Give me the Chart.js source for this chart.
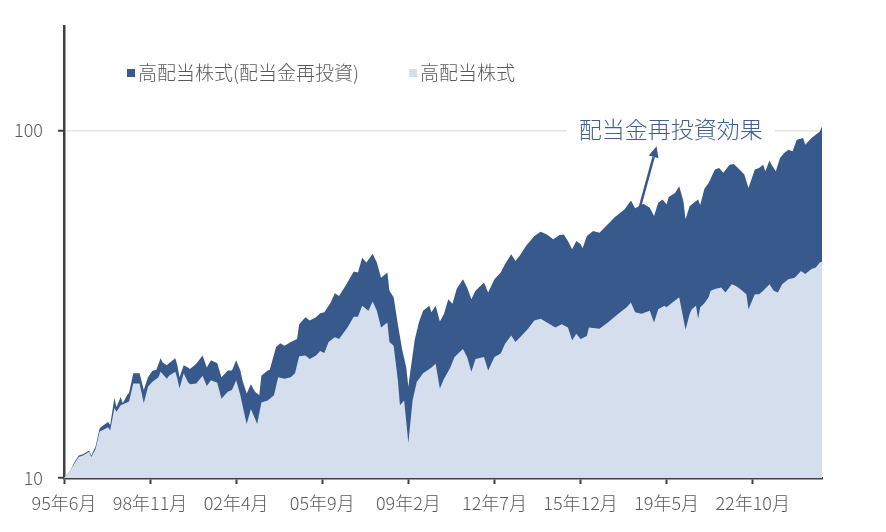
<!DOCTYPE html>
<html><head><meta charset="utf-8">
<script src="https://cdn.jsdelivr.net/npm/chart.js@4"></script>
<style>html,body{margin:0;padding:0;background:#fff}#wrap{width:886px;height:532px}</style>
</head><body><div id="wrap"><canvas id="c" width="886" height="532"></canvas></div>
<script>
// ---- data (month index 0 = 1995年6月) ----
const startYear = 1995;
const startMonth = 6;
const xTickMonths = [0, 41, 82, 123, 164, 205, 246, 287, 328];
const yTickValues = [10, 100];
const seriesLabels = ['高配当株式(配当金再投資)', '高配当株式'];
const annotationText = '配当金再投資効果';

const totalMonths = [0,3,5,7,9,12,13,15,17,19,21,22,24,25,27,28,30,31,33,36,38,40,42,44,46,47,49,50,53,54,55,57,59,60,63,66,68,70,73,75,78,80,82,84,85,87,89,91,93,94,97,98,101,103,105,108,111,112,115,117,120,122,124,127,129,131,134,138,140,142,144,147,149,151,154,155,157,159,161,163,164,165,167,169,171,174,175,177,179,181,183,185,187,190,192,194,196,200,202,205,208,210,213,215,217,220,224,227,230,233,236,238,240,242,244,246,247,249,252,255,259,262,267,270,272,276,279,281,283,285,287,288,291,293,295,296,298,300,302,303,305,307,310,312,314,317,319,321,324,326,329,331,333,334,336,337,339,341,343,345,347,349,352,353,356,358,360,361];
const totalValues = [10.0,10.5,11.1,11.6,11.7,12.0,11.6,12.3,13.9,14.2,14.5,14.2,17.0,16.0,17.1,16.4,17.3,17.6,20.0,20.0,17.9,19.5,20.3,20.5,22.1,21.5,21.1,21.4,22.1,21.1,19.5,21.1,20.8,20.6,21.3,22.5,20.8,21.8,21.4,19.5,20.4,20.4,21.8,20.4,19.1,17.5,18.6,17.7,17.3,19.7,20.4,20.5,23.8,24.4,24.0,24.6,25.1,27.7,29.0,28.4,29.0,29.8,30.0,32.0,34.0,33.4,35.7,39.3,39.0,43.0,41.7,44.2,41.7,37.7,39.0,34.6,33.1,27.7,23.5,20.8,18.3,20.4,24.9,28.0,30.3,31.3,30.0,31.3,28.2,29.7,32.7,31.7,35.0,37.3,35.3,32.7,34.6,36.5,34.2,37.3,39.0,41.2,44.0,42.1,43.6,46.5,49.7,51.1,50.2,48.6,50.0,50.2,48.1,45.5,48.1,47.1,45.8,49.7,51.4,50.8,53.7,56.1,59.3,62.9,59.7,61.5,59.9,56.7,61.9,63.3,61.3,64.3,66.1,69.1,62.6,55.5,60.6,61.9,63.3,61.0,68.0,70.6,77.2,78.0,75.5,79.7,80.1,78.0,74.7,68.3,77.2,78.0,79.7,76.3,81.9,79.7,76.3,83.3,86.1,88.0,87.1,94.0,95.1,91.0,95.1,97.2,99.3,102.7];

const priceMonths = [0,3,5,7,9,12,13,15,17,19,21,22,24,25,27,30,31,33,36,38,40,42,45,46,49,50,53,54,55,57,59,60,63,66,68,70,73,75,78,80,82,84,85,87,89,91,92,94,97,100,102,105,108,110,112,115,117,120,122,124,126,129,131,135,138,140,142,145,147,149,151,154,155,157,159,160,162,164,166,168,171,173,175,177,179,181,184,186,190,192,194,196,200,202,205,208,210,213,215,218,221,224,227,230,234,237,240,242,244,246,249,250,255,259,264,268,270,272,275,279,281,283,286,287,289,293,296,298,299,301,302,303,305,307,308,310,313,315,318,320,322,325,326,329,331,333,336,338,340,342,345,348,351,353,356,358,360,361];
const priceValues = [10.0,10.5,11.0,11.5,11.6,11.9,11.5,12.1,13.6,13.8,14.0,13.7,15.9,15.5,16.2,16.5,16.6,18.7,18.7,16.4,18.3,18.9,19.5,20.2,19.3,19.7,20.2,19.3,18.1,20.0,18.9,18.6,18.7,19.7,18.4,19.1,18.8,16.9,17.7,17.9,19.1,17.3,16.2,14.3,15.8,14.8,14.3,16.5,16.7,17.3,19.5,19.3,19.5,20.0,22.4,22.5,22.0,22.5,23.2,22.9,24.6,25.4,25.1,27.1,29.1,29.1,31.3,30.3,32.2,30.3,27.1,28.0,24.6,24.0,19.1,16.2,16.7,12.6,16.7,18.9,20.0,20.4,20.8,21.3,18.1,19.3,20.8,22.3,23.5,22.3,20.2,22.0,22.3,20.4,22.3,22.8,24.3,25.7,24.6,25.7,26.9,28.4,28.7,28.0,27.1,27.7,27.1,24.9,26.0,25.1,25.6,27.1,26.9,28.0,29.7,31.0,32.0,30.0,29.7,30.3,28.0,30.6,31.3,31.0,31.7,33.1,26.7,29.7,30.6,31.3,28.7,31.0,31.8,33.1,34.6,35.0,35.3,34.2,36.1,35.7,35.0,33.8,30.6,33.8,33.8,34.6,36.1,34.6,34.2,36.1,37.3,37.7,39.4,38.6,39.9,40.3,41.7,41.9];

// annotation anchors in data space (month index, value)
const labelAnchor = {month: 289, value: 101};
const arrowFrom = {month: 274, value: 59.4};
const arrowTo = {month: 282.2, value: 90};

// ---- styles ----
const FONT = '"Noto Sans CJK JP", "Noto Sans", sans-serif';
const DARK = '#38598b';
const LIGHT = '#d4deed';
const AXIS = '#404040';
const TEXT = '#595959';

function monthLabel(m) {
  const t = startMonth - 1 + m;
  const y = startYear + Math.floor(t / 12);
  const mo = (t % 12) + 1;
  return String(y % 100).padStart(2, '0') + '年' + mo + '月';
}

const legendPlugin = {
  id: 'customLegend',
  afterDraw(chart) {
    const ctx = chart.ctx;
    ctx.save();
    ctx.font = '300 19px ' + FONT;
    ctx.textBaseline = 'middle';
    ctx.textAlign = 'left';
    let x = 127;
    const y = 73;
    chart.data.datasets.forEach(ds => {
      ctx.fillStyle = ds.backgroundColor;
      ctx.fillRect(x, y - 4, 8, 8);
      ctx.fillStyle = TEXT;
      ctx.fillText(ds.label, x + 11, y);
      x += 11 + ctx.measureText(ds.label).width + 50;
    });
    ctx.restore();
  }
};

const annotationPlugin = {
  id: 'effectAnnotation',
  afterDatasetsDraw(chart) {
    const ctx = chart.ctx, xs = chart.scales.x, ys = chart.scales.y;
    ctx.save();
    const lx = xs.getPixelForValue(labelAnchor.month), ly = ys.getPixelForValue(labelAnchor.value);
    ctx.font = '300 23px ' + FONT;
    const w = ctx.measureText(annotationText).width;
    ctx.fillStyle = '#ffffff';
    ctx.fillRect(lx - w / 2 - 12, ly - 14, w + 24, 28);
    ctx.fillStyle = '#3f5f93';
    ctx.textAlign = 'center';
    ctx.textBaseline = 'middle';
    ctx.fillText(annotationText, lx, ly);
    // arrow
    const x1 = xs.getPixelForValue(arrowFrom.month), y1 = ys.getPixelForValue(arrowFrom.value);
    const x2 = xs.getPixelForValue(arrowTo.month), y2 = ys.getPixelForValue(arrowTo.value);
    const ang = Math.atan2(y2 - y1, x2 - x1);
    const head = 11, half = 5;
    const bx = x2 - head * Math.cos(ang), by = y2 - head * Math.sin(ang);
    ctx.strokeStyle = DARK;
    ctx.lineWidth = 2.5;
    ctx.beginPath();
    ctx.moveTo(x1, y1);
    ctx.lineTo(bx, by);
    ctx.stroke();
    ctx.fillStyle = DARK;
    ctx.beginPath();
    ctx.moveTo(x2, y2);
    ctx.lineTo(bx + half * Math.sin(ang), by - half * Math.cos(ang));
    ctx.lineTo(bx - half * Math.sin(ang), by + half * Math.cos(ang));
    ctx.closePath();
    ctx.fill();
    ctx.restore();
  }
};

const toPoints = (ms, vs) => ms.map((m, i) => ({x: m, y: vs[i]}));

new Chart(document.getElementById('c'), {
  type: 'line',
  data: {
    datasets: [
      {label: seriesLabels[0], data: toPoints(totalMonths, totalValues), backgroundColor: DARK, borderColor: DARK,
       borderWidth: 0, pointRadius: 0, fill: 'start', order: 1, tension: 0},
      {label: seriesLabels[1], data: toPoints(priceMonths, priceValues), backgroundColor: LIGHT, borderColor: LIGHT,
       borderWidth: 0, pointRadius: 0, fill: 'start', order: 0, tension: 0}
    ]
  },
  options: {
    responsive: false,
    animation: false,
    devicePixelRatio: 1,
    layout: {padding: {left: 0, right: 64, top: 25, bottom: 0}},
    plugins: {legend: {display: false}, tooltip: {enabled: false}},
    scales: {
      x: {
        type: 'linear', min: 0, max: 361,
        afterBuildTicks: s => { s.ticks = xTickMonths.map(v => ({value: v})); },
        afterFit: s => { s.height = 54; },
        grid: {drawOnChartArea: false, drawTicks: true, tickLength: 6, tickColor: AXIS, tickWidth: 2},
        border: {color: AXIS, width: 2.5},
        ticks: {autoSkip: false, maxRotation: 0, padding: 8, color: TEXT, font: {family: FONT, size: 18, weight: '300'},
                callback: v => monthLabel(v)}
      },
      y: {
        type: 'logarithmic', min: 10, max: 200,
        afterBuildTicks: s => { s.ticks = yTickValues.map(v => ({value: v})); },
        afterFit: s => { s.width = 64; },
        grid: {color: c => (c.tick && c.tick.value === 100) ? '#e4e4e4' : 'rgba(0,0,0,0)', lineWidth: 1.5,
               tickLength: 6, tickColor: AXIS, tickWidth: 2},
        border: {color: AXIS, width: 2.5},
        ticks: {autoSkip: false, padding: 15, color: TEXT, font: {family: FONT, size: 18, weight: '300'}, callback: v => String(v)}
      }
    }
  },
  plugins: [legendPlugin, annotationPlugin]
});
</script>
</body></html>
